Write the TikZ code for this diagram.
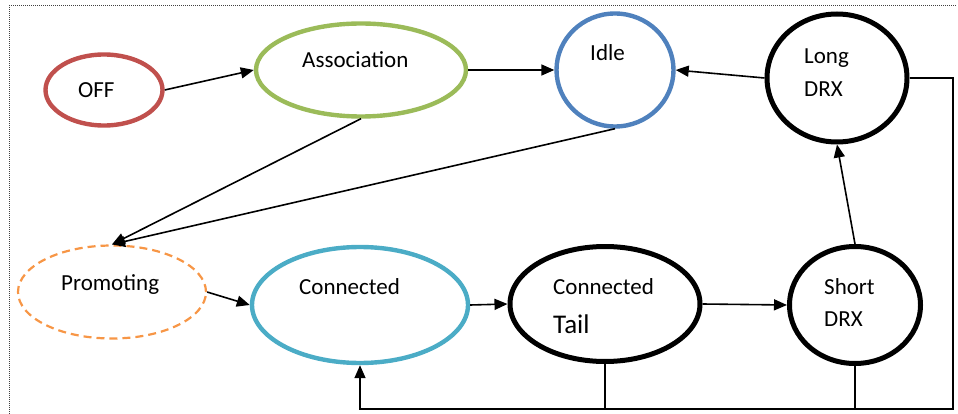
\documentclass[tikz,border=0pt]{standalone}
\usepackage{fontspec}
\setmainfont{Carlito}
\usetikzlibrary{shapes.geometric,arrows.meta}
\definecolor{offred}{HTML}{C0504D}
\definecolor{assocgreen}{HTML}{9BBB59}
\definecolor{idleblue}{HTML}{4F81BD}
\definecolor{promorange}{HTML}{F79646}
\definecolor{conncyan}{HTML}{4BACC6}
\begin{document}
\begin{tikzpicture}[x=1pt,y=-1pt,
  state/.style={ellipse,draw,line width=4.4pt,inner sep=0pt},
  lbl/.style={inner sep=0pt,font=\fontsize{23}{26}\selectfont,anchor=base west},
  conn/.style={line width=1.6pt,-{Triangle[length=13pt,width=11pt]}},
  plain/.style={line width=1.6pt}]
\useasboundingbox (0,0) rectangle (958,414);
% frame
\draw[dash pattern=on 1pt off 1pt,line width=1pt,black!75] (9,414) -- (9,6) -- (957,6);
% states
\node[state,draw=offred,minimum width=117pt,minimum height=71pt] (OFF) at (104,90) {};
\node[state,draw=assocgreen,minimum width=210pt,minimum height=93pt] (Assoc) at (361,70) {};
\node[state,draw=idleblue,minimum width=117pt,minimum height=113pt] (Idle) at (615,70) {};
\node[state,draw=black,line width=5pt,minimum width=140pt,minimum height=128pt] (Long) at (837,78) {};
\node[ellipse,draw=promorange,line width=2.2pt,dash pattern=on 8pt off 5pt,inner sep=0pt,minimum width=188pt,minimum height=93pt] (Prom) at (112,292) {};
\node[state,draw=conncyan,minimum width=216pt,minimum height=116pt] (Conn) at (360,305) {};
\node[state,draw=black,line width=5pt,minimum width=190pt,minimum height=115pt] (Tail) at (605,304) {};
\node[state,draw=black,line width=5pt,minimum width=131pt,minimum height=117pt] (Short) at (855,305) {};
% labels
\node[lbl] (tOFF) at (78,98) {OFF};
\node[lbl] (tAssoc) at (302,68) {Association};
\node[lbl] (tIdle) at (590,61) {Idle};
\node[lbl] (tLong1) at (804,64) {Long};
\node[lbl] (tLong2) at (804,97) {DRX};
\node[lbl] (tProm) at (61,290) {Promoting};
\node[lbl] (tConn) at (299,294) {Connected};
\node[lbl] (tTail1) at (553,294) {Connected};
\node[lbl,font=\fontsize{27}{30}\selectfont] (tTail2) at (553,333) {Tail};
\node[lbl] (tShort1) at (824,294) {Short};
\node[lbl] (tShort2) at (824,326) {DRX};
% connectors
\coordinate (fr) at (953,409);
\draw[conn] (OFF.east) -- (Assoc.west);
\draw[conn] (Assoc.east) -- (Idle.west);
\draw[conn] (Long.west) -- (Idle.east);
\draw[conn] (Assoc.south) -- (Prom.north);
\draw[conn] (Idle.south) -- (Prom.north);
\draw[conn] (Prom.east) -- (Conn.west);
\draw[conn] (Conn.east) -- (Tail.west);
\draw[conn] (Tail.east) -- (Short.west);
\draw[conn] (Short.north) -- (Long.south);
\draw[conn] (Long.east) -| (fr) -| (Conn.south);
\draw[plain] (Tail.south) -- (Tail.south |- fr);
\draw[plain] (Short.south) -- (Short.south |- fr);
\end{tikzpicture}
\end{document}
